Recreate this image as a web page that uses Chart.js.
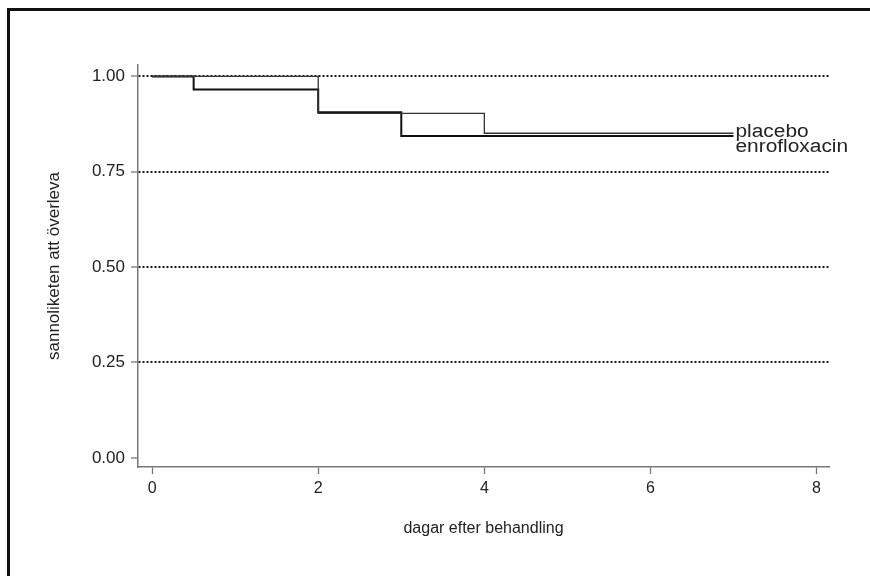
<!DOCTYPE html>
<html>
<head>
<meta charset="utf-8">
<title>Överlevnad</title>
<script src="https://cdn.jsdelivr.net/npm/chart.js@4.4.1/dist/chart.umd.min.js"></script>
<style>
  html, body { margin: 0; padding: 0; background: #fff; }
  canvas { display: block; }
</style>
</head>
<body>
<canvas id="kmChart" width="870" height="576"></canvas>
<script>
// data
const enroDagar = [0, 0.5, 2, 3, 7];
const enroOverleva = [1.0, 0.966, 0.906, 0.844, 0.844];
const placeboDagar = [0, 2, 4, 7];
const placeboOverleva = [1.0, 0.903, 0.851, 0.851];
const serieNamn = ['enrofloxacin', 'placebo'];
const xTicks = [0, 2, 4, 6, 8];
const yTicks = [0, 0.25, 0.5, 0.75, 1.0];

const FONT = "'Liberation Sans', Arial, Helvetica, sans-serif";

const toPoints = (xs, ys) => xs.map((x, i) => ({ x: x, y: ys[i] }));

// black frame, top and left only
const ramPlugin = {
    id: 'ram',
    beforeDraw(chart) {
        const ctx = chart.ctx;
        ctx.save();
        ctx.fillStyle = '#fff';
        ctx.fillRect(0, 0, chart.width, chart.height);
        ctx.fillStyle = '#111';
        ctx.fillRect(7, 8, 3, chart.height - 8);
        ctx.fillRect(7, 8, chart.width - 7, 3);
        ctx.restore();
    }
};

// series names written at the end of each curve (the reference text is a bit stretched)
const etikettPlugin = {
    id: 'etiketter',
    afterDatasetsDraw(chart) {
        const ctx = chart.ctx;
        const xs = chart.scales.x, ys = chart.scales.y;
        const offsets = { enrofloxacin: 11, placebo: -1 };
        chart.data.datasets.forEach(ds => {
            const last = ds.data[ds.data.length - 1];
            const px = xs.getPixelForValue(last.x) + 2;
            const py = ys.getPixelForValue(last.y) + (offsets[ds.label] || 0);
            ctx.save();
            ctx.translate(px, py);
            ctx.scale(1.16, 1);
            ctx.font = '18px ' + FONT;
            ctx.fillStyle = '#222';
            ctx.textBaseline = 'middle';
            ctx.textAlign = 'left';
            ctx.fillText(ds.label, 0, 0);
            ctx.restore();
        });
    }
};

new Chart(document.getElementById('kmChart'), {
    type: 'line',
    data: {
        datasets: [
            {
                label: serieNamn[1],
                data: toPoints(placeboDagar, placeboOverleva),
                borderColor: '#333',
                borderWidth: 1.3,
                stepped: 'before',
                pointRadius: 0,
                fill: false
            },
            {
                label: serieNamn[0],
                data: toPoints(enroDagar, enroOverleva),
                borderColor: '#111',
                borderWidth: 2,
                stepped: 'before',
                pointRadius: 0,
                fill: false
            }
        ]
    },
    options: {
        responsive: false,
        devicePixelRatio: 1,
        animation: false,
        layout: { padding: { left: 0, top: 65, right: 41, bottom: 0 } },
        plugins: {
            legend: { display: false },
            tooltip: { enabled: false }
        },
        scales: {
            x: {
                type: 'linear',
                min: -0.17,
                max: 8.15,
                afterBuildTicks: s => { s.ticks = xTicks.map(v => ({ value: v })); },
                afterFit: s => { s.height = 109; },
                grid: {
                    drawOnChartArea: false,
                    tickLength: 7,
                    tickColor: '#777',
                    tickWidth: 1.3
                },
                border: { color: '#777', width: 1.5 },
                ticks: {
                    padding: 5,
                    color: '#222',
                    font: { family: FONT, size: 16 },
                    callback: v => String(v)
                },
                title: {
                    display: true,
                    text: 'dagar efter behandling',
                    color: '#222',
                    font: { family: FONT, size: 16 },
                    padding: { top: 0, bottom: 38 }
                }
            },
            y: {
                type: 'linear',
                min: -0.024,
                max: 1.03,
                afterBuildTicks: s => { s.ticks = yTicks.map(v => ({ value: v })); },
                afterFit: s => { s.width = 138; },
                grid: {
                    color: c => (c.tick && c.tick.value === 0) ? 'rgba(0,0,0,0)' : '#1a1a1a',
                    lineWidth: 2,
                    tickBorderDash: [],
                    tickLength: 7,
                    tickColor: '#777',
                    tickWidth: 1.3
                },
                border: {
                    color: '#777',
                    width: 1.5,
                    dash: c => c.type === 'tick' ? [2, 2] : []
                },
                ticks: {
                    padding: 6,
                    color: '#222',
                    font: { family: FONT, size: 17 },
                    callback: v => Number(v).toFixed(2)
                },
                title: {
                    display: true,
                    text: 'sannoliketen att överleva',
                    color: '#222',
                    font: { family: FONT, size: 17 },
                    padding: { top: 44, bottom: 0 }
                }
            }
        }
    },
    plugins: [ramPlugin, etikettPlugin]
});
</script>
</body>
</html>
